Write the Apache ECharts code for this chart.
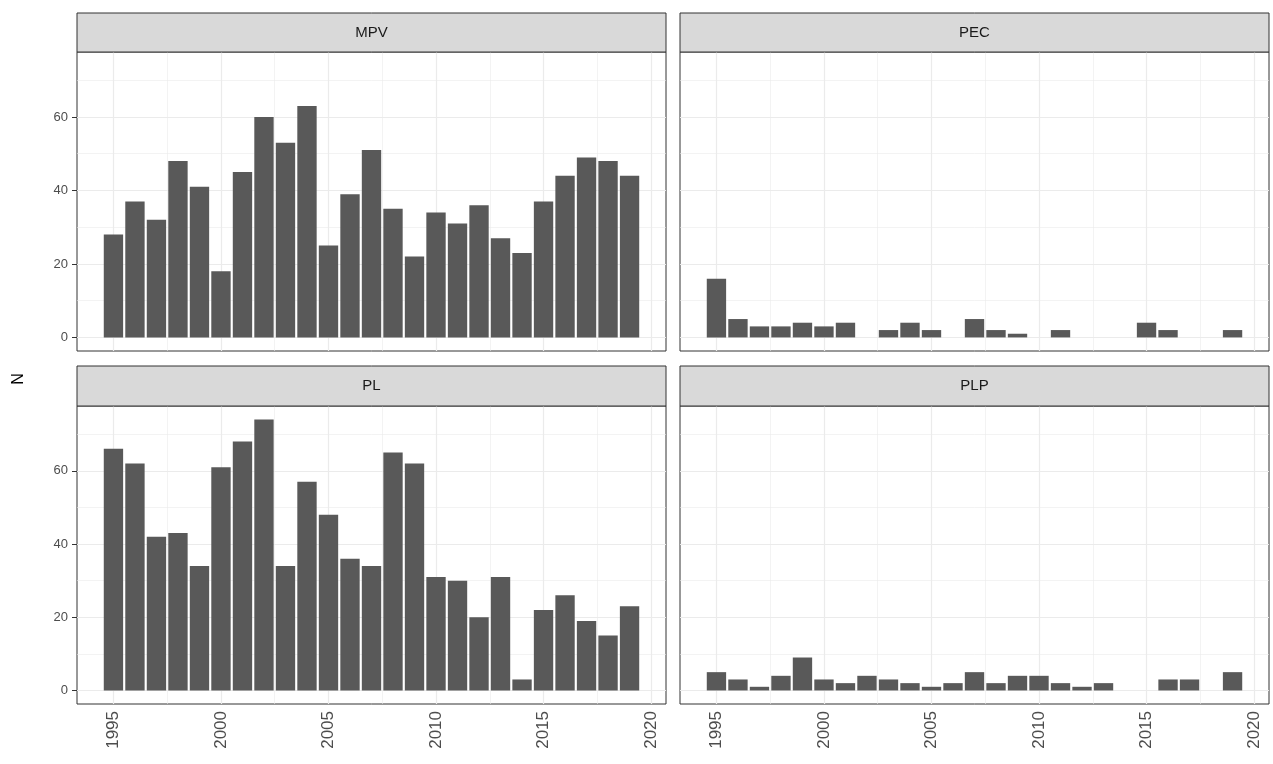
<!DOCTYPE html>
<html>
<head>
<meta charset="utf-8">
<script src="https://cdn.jsdelivr.net/npm/echarts@6/dist/echarts.min.js"></script>
<style>
html,body{margin:0;padding:0;background:#fff;}
#chart{width:1273px;height:764px;}
</style>
</head>
<body>
<div id="chart"></div>
<script>
// ---- data ----
const years = [1995,1996,1997,1998,1999,2000,2001,2002,2003,2004,2005,2006,2007,2008,2009,2010,2011,2012,2013,2014,2015,2016,2017,2018,2019];
const panels = ["MPV","PEC","PL","PLP"];
const mpv = [28,37,32,48,41,18,45,60,53,63,25,39,51,35,22,34,31,36,27,23,37,44,49,48,44];
const pec = [16,5,3,3,4,3,4,null,2,4,2,null,5,2,1,null,2,null,null,null,4,2,null,null,2];
const pl  = [66,62,42,43,34,61,68,74,34,57,48,36,34,65,62,31,30,20,31,3,22,26,19,15,23];
const plp = [5,3,1,4,9,3,2,4,3,2,1,2,5,2,4,4,2,1,2,null,null,3,3,null,5];
const xTicks = [1995,2000,2005,2010,2015,2020];
const xMinor = [1997.5,2002.5,2007.5,2012.5,2017.5];
const yTicks = [0,20,40,60];
const yMinor = [10,30,50,70];
const yTitle = "N";

const seriesVals = [mpv, pec, pl, plp];

// ---- layout ----
const grids = [
  {left:77, top:52, width:589, height:299},
  {left:680, top:52, width:589, height:299},
  {left:77, top:406, width:589, height:298},
  {left:680, top:406, width:589, height:298}
];
const strips = [
  {x:77, y:13, w:589, h:39},
  {x:680, y:13, w:589, h:39},
  {x:77, y:366, w:589, h:40},
  {x:680, y:366, w:589, h:40}
];
const XMIN = 1993.305, XMAX = 2020.695, YMIN = -3.7, YMAX = 77.7;
const tickColor = '#333333', labColor = '#4D4D4D', gridColor = '#EBEBEB';
const FONT = '"Liberation Sans", Arial, sans-serif';
const XFS = 17, YFS = 13, STRIPFS = 15;

const xAxis = [], yAxis = [], series = [], graphic = [];
grids.forEach((g, i) => {
  const bottom = i >= 2, left = (i % 2 === 0);
  xAxis.push({
    type:'value', gridIndex:i, min:XMIN, max:XMAX,
    axisLine:{show:false},
    splitLine:{show:false},
    axisTick:{show:bottom, customValues:xTicks, length:5, lineStyle:{color:tickColor, width:1}},
    axisLabel:{show:bottom, customValues:xTicks, rotate:90, color:labColor, fontSize:XFS, fontFamily:FONT, margin:7,
      formatter: v => String(v)}
  });
  yAxis.push({
    type:'value', gridIndex:i, min:YMIN, max:YMAX,
    axisLine:{show:false},
    splitLine:{show:false},
    axisTick:{show:left, customValues:yTicks, length:5, lineStyle:{color:tickColor, width:1}},
    axisLabel:{show:left, customValues:yTicks, color:labColor, fontSize:YFS, fontFamily:FONT, margin:9}
  });
  // gridlines
  const ml = [];
  xTicks.forEach(v => ml.push({xAxis:v, lineStyle:{color:gridColor, width:1.2, type:'solid'}}));
  xMinor.forEach(v => ml.push({xAxis:v, lineStyle:{color:gridColor, width:0.6, type:'solid'}}));
  yTicks.forEach(v => ml.push({yAxis:v, lineStyle:{color:gridColor, width:1.2, type:'solid'}}));
  yMinor.forEach(v => ml.push({yAxis:v, lineStyle:{color:gridColor, width:0.6, type:'solid'}}));
  series.push({
    type:'line', xAxisIndex:i, yAxisIndex:i, z:1, silent:true,
    data:[[2000,0]], showSymbol:false, symbol:'none', lineStyle:{opacity:0},
    markLine:{silent:true, z:1, symbol:['none','none'], label:{show:false}, animation:false, data:ml}
  });
  const vals = seriesVals[i];
  series.push({
    type:'bar', name:panels[i], xAxisIndex:i, yAxisIndex:i, z:3,
    barWidth:19.35,
    itemStyle:{color:'#595959'},
    data: years.map((y, k) => vals[k] == null ? null : [y, vals[k]]).filter(d => d)
  });
  const s = strips[i];
  graphic.push({
    type:'rect', shape:{x:s.x, y:s.y, width:s.w, height:s.h},
    style:{fill:'#D9D9D9', stroke:tickColor, lineWidth:1}, z:10
  });
  graphic.push({
    type:'text', x:s.x + s.w/2, y:s.y + s.h/2, z:11,
    style:{text:panels[i], fill:'#1A1A1A', font:STRIPFS + 'px ' + FONT, align:'center', verticalAlign:'middle'}
  });
});
graphic.push({
  type:'text', x:19, y:379, rotation:Math.PI/2, z:11,
  style:{text:yTitle, fill:'#000000', font:'16px ' + FONT, align:'center', verticalAlign:'middle'}
});

const chart = echarts.init(document.getElementById('chart'), null, {renderer:'canvas'});
chart.setOption({
  animation:false,
  backgroundColor:'#ffffff',
  grid: grids.map(g => Object.assign({show:true, borderColor:tickColor, borderWidth:1, backgroundColor:'#ffffff', z:0}, g)),
  xAxis, yAxis, series, graphic
});
</script>
</body>
</html>
